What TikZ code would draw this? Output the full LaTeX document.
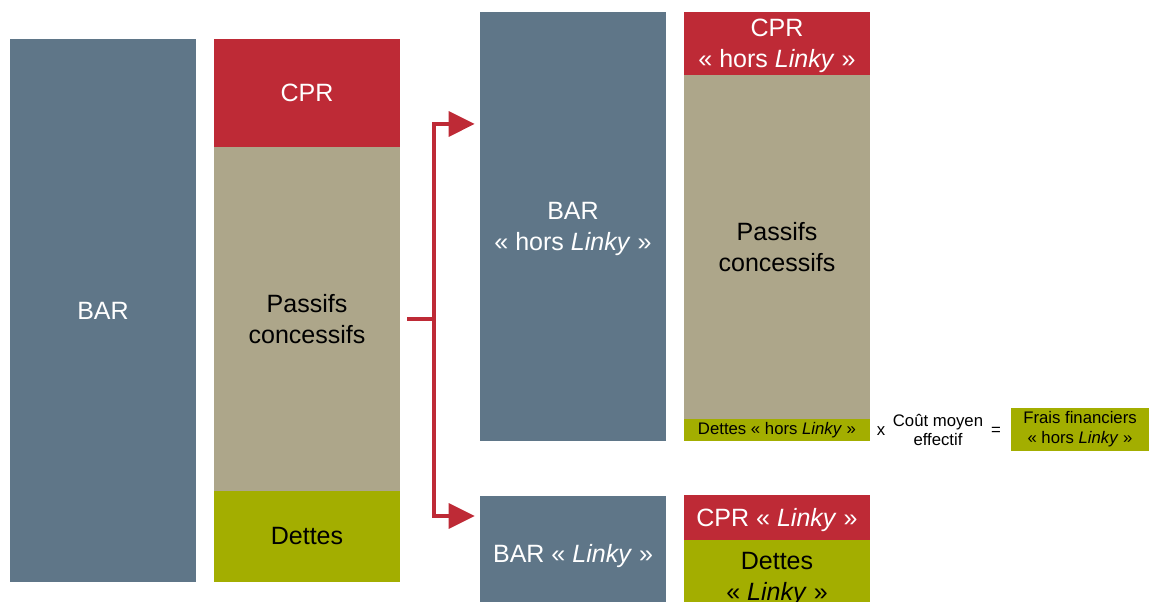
\documentclass[tikz,border=0pt]{standalone}
\usepackage{fontspec}
\setmainfont{Liberation Sans}
\usepackage{tikz}
\usetikzlibrary{arrows.meta}

\definecolor{ardoise}{RGB}{95,118,136}
\definecolor{rouge}{RGB}{190,42,54}
\definecolor{sable}{RGB}{173,166,138}
\definecolor{olive}{RGB}{163,174,0}

\newcommand{\gros}{\fontsize{17.8}{22}\selectfont}
\newcommand{\petit}{\fontsize{11.9}{14}\selectfont}

\begin{document}
\begin{tikzpicture}[> = {Triangle[length=0.65cm,width=0.62cm]}, % arrow head style
	x=0.025cm,y=-0.025cm, % one unit is one pixel of the slide
	every node/.style={inner sep=0pt,align=center},
	every label/.style={inner sep=0pt,align=center,font=\gros},
	blok/.style={minimum width=4.65cm,font=\gros},
	fleche/.style={draw=rouge,line width=2.8pt}]
	\useasboundingbox (0,0) rectangle (1149,602);

	% bilan de depart
	\node[blok,fill=ardoise,text=white,minimum height=13.575cm] (bar) at (103,310.5) {BAR};
	\node[blok,fill=rouge,text=white,minimum height=2.7cm] (cpr) at (307,93) {CPR};
	\node[blok,fill=sable,minimum height=8.6cm] (passifs) at (307,319) {Passifs\\concessifs};
	\node[blok,fill=olive,minimum height=2.275cm] (dettes) at (307,536.5) {Dettes};

	% partie hors Linky
	\node[blok,fill=ardoise,minimum height=10.725cm,
		label={[text=white,yshift=-2pt]center:BAR\\«~hors \textit{Linky}~»}] (barhl) at (573,226.5) {};
	\node[blok,fill=rouge,minimum height=1.575cm,
		label={[text=white,yshift=-2pt]center:CPR\\«~hors \textit{Linky}~»}] (cprhl) at (777,43.5) {};
	\node[blok,fill=sable,minimum height=8.6cm] (passifshl) at (777,247) {Passifs\\concessifs};
	\node[blok,fill=olive,minimum height=0.55cm,font=\petit] (detteshl) at (777,430) {Dettes «~hors \textit{Linky}~»};
	\node[font=\petit] (fois) at (881,431) {x};
	\node[font=\petit] (cout) at (938,430) {Coût moyen\\effectif};
	\node[font=\petit] (egal) at (996,431) {=};
	\node[fill=olive,minimum width=3.45cm,minimum height=1.075cm,font=\petit] (frais) at (1080,429.5) {Frais financiers\\«~hors \textit{Linky}~»};

	% partie Linky
	\node[blok,fill=ardoise,minimum height=2.65cm,
		label={[text=white,yshift=-5pt]center:BAR «~\textit{Linky}~»}] (barl) at (573,549) {};
	\node[blok,fill=rouge,minimum height=1.125cm,
		label={[text=white,yshift=-2pt]center:CPR «~\textit{Linky}~»}] (cprl) at (777,517.5) {};
	\node[blok,fill=olive,minimum height=1.55cm,
		label={[yshift=-5.7pt]center:Dettes\\«~\textit{Linky}~»}] (dettesl) at (777,571) {};

	% separation
	\coordinate (fourche) at (434,319);
	\draw[fleche,shorten <=0.175cm] (passifs.east) -- (fourche);
	\draw[fleche,->,shorten >=0.125cm] (fourche) |- ([yshift=2.5625cm]barhl.west);
	\draw[fleche,->,shorten >=0.125cm] (fourche) |- ([yshift=0.825cm]barl.west);

\end{tikzpicture}
\end{document}
